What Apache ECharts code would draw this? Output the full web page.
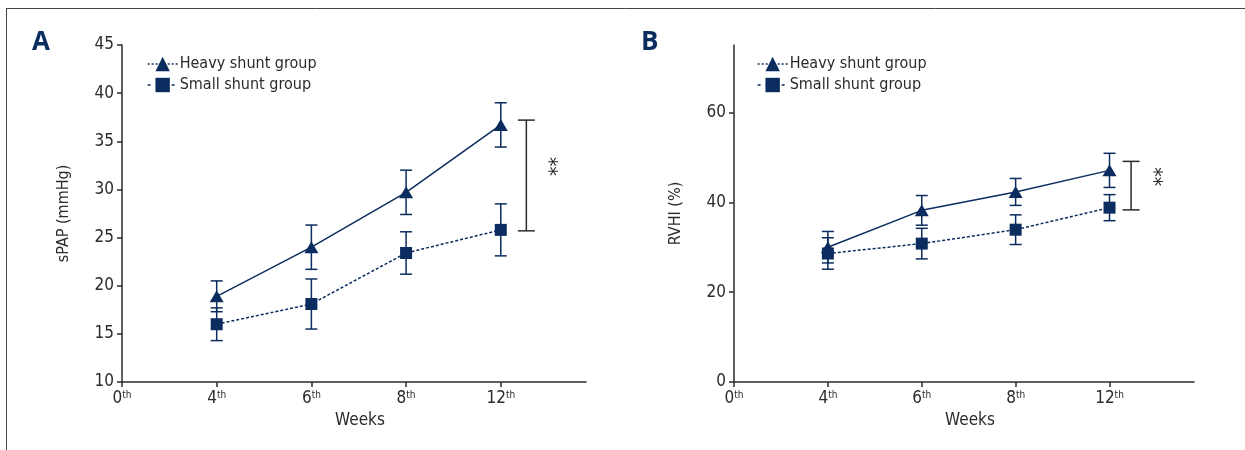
<!DOCTYPE html>
<html>
<head>
<meta charset="utf-8">
<script src="https://cdn.jsdelivr.net/npm/echarts@6/dist/echarts.min.js"></script>
<style>
  html, body { margin: 0; padding: 0; background: #fff; }
  #chart { width: 1245px; height: 450px; }
</style>
</head>
<body>
<div id="chart"></div>
<script>
// x positions 0..4 stand for the weeks below
const weekLabels = ['0', '4', '6', '8', '12']
const weekPos = [1, 2, 3, 4]

// A: sPAP (mmHg)
const sPapHeavy = [18.9, 24.0, 29.7, 36.7]
const sPapHeavySd = [1.6, 2.3, 2.3, 2.3]
const sPapSmall = [16.0, 18.1, 23.4, 25.8]
const sPapSmallSd = [1.7, 2.6, 2.2, 2.7]
const sPapTicks = [10, 15, 20, 25, 30, 35, 40, 45]
const sPapBracket = [25.7, 37.2]

// B: RVHI (%)
const rvhiHeavy = [30.0, 38.2, 42.3, 47.1]
const rvhiHeavySd = [3.5, 3.3, 3.0, 3.8]
const rvhiSmall = [28.6, 30.8, 33.9, 38.8]
const rvhiSmallSd = [3.5, 3.4, 3.3, 2.9]
const rvhiTicks = [0, 20, 40, 60]
const rvhiBracket = [38.3, 49.1]

const NAVY = '#0b2c5e'
const INK = '#2b2b2b'
const FONT = '"DejaVu Sans Condensed", "Liberation Sans Narrow", sans-serif'

const chart = echarts.init(document.getElementById('chart'))

function pairs (ys) {
  return ys.map((y, i) => [weekPos[i], y])
}

function errData (ys, sds) {
  return ys.map((y, i) => [weekPos[i], y - sds[i], y + sds[i]])
}

// vertical bar with caps, in data units
function errSeries (idx, ys, sds) {
  return {
    type: 'custom',
    xAxisIndex: idx,
    yAxisIndex: idx,
    silent: true,
    z: 1,
    data: errData(ys, sds),
    renderItem (params, api) {
      const lo = api.coord([api.value(0), api.value(1)])
      const hi = api.coord([api.value(0), api.value(2)])
      const w = 6
      const style = { stroke: NAVY, lineWidth: 1.5 }
      return {
        type: 'group',
        children: [
          { type: 'line', shape: { x1: lo[0], y1: lo[1], x2: hi[0], y2: hi[1] }, style },
          { type: 'line', shape: { x1: lo[0] - w, y1: lo[1], x2: lo[0] + w, y2: lo[1] }, style },
          { type: 'line', shape: { x1: hi[0] - w, y1: hi[1], x2: hi[0] + w, y2: hi[1] }, style }
        ]
      }
    }
  }
}

function bracketSeries (idx, xPos, range) {
  return {
    type: 'custom',
    xAxisIndex: idx,
    yAxisIndex: idx,
    silent: true,
    data: [[xPos, range[0], range[1]]],
    renderItem (params, api) {
      const lo = api.coord([api.value(0), api.value(1)])
      const hi = api.coord([api.value(0), api.value(2)])
      const w = 8.5
      const style = { stroke: INK, lineWidth: 1.5 }
      return {
        type: 'group',
        children: [
          { type: 'line', shape: { x1: lo[0], y1: lo[1], x2: hi[0], y2: hi[1] }, style },
          { type: 'line', shape: { x1: lo[0] - w, y1: lo[1], x2: lo[0] + w, y2: lo[1] }, style },
          { type: 'line', shape: { x1: hi[0] - w, y1: hi[1], x2: hi[0] + w, y2: hi[1] }, style },
          {
            type: 'text',
            x: lo[0] + 21,
            y: (lo[1] + hi[1]) / 2 - 9,
            rotation: -Math.PI / 2,
            style: {
              text: '**', fill: INK, font: '21px ' + FONT,
              align: 'center', verticalAlign: 'middle'
            }
          }
        ]
      }
    }
  }
}

function xAxis (idx) {
  return {
    type: 'value',
    gridIndex: idx,
    min: 0,
    max: 4.9,
    name: 'Weeks',
    nameLocation: 'middle',
    nameGap: 22,
    nameTextStyle: { color: INK, fontSize: 17, fontFamily: FONT, padding: [0, 0, 0, 12] },
    axisLine: { lineStyle: { color: INK, width: 1.5 } },
    axisTick: { length: 5, lineStyle: { color: INK, width: 1.5 }, customValues: [0, 1, 2, 3, 4] },
    splitLine: { show: false },
    axisLabel: {
      customValues: [0, 1, 2, 3, 4],
      margin: 8,
      formatter: v => '{n|' + weekLabels[Math.round(v)] + '}{s|th}',
      rich: {
        n: { fontSize: 17, fontFamily: FONT, color: INK, lineHeight: 18 },
        s: { fontSize: 10, fontFamily: FONT, color: INK, verticalAlign: 'top', lineHeight: 18, padding: [0, 0, 7, 0] }
      }
    }
  }
}

function yAxis (idx, name, min, max, ticks) {
  return {
    type: 'value',
    gridIndex: idx,
    min,
    max,
    name,
    nameLocation: 'middle',
    nameGap: 50,
    nameTextStyle: { color: INK, fontSize: 16, fontFamily: FONT },
    axisLine: { show: true, lineStyle: { color: INK, width: 1.5 } },
    axisTick: { show: true, length: 5, lineStyle: { color: INK, width: 1.5 }, customValues: ticks },
    splitLine: { show: false },
    axisLabel: { customValues: ticks, margin: 8, color: INK, fontSize: 17, fontFamily: FONT }
  }
}

function legend (left) {
  return {
    left,
    top: 51,
    orient: 'vertical',
    itemWidth: 30,
    itemHeight: 18,
    itemGap: 5,
    selectedMode: false,
    textStyle: { color: INK, fontSize: 16, fontFamily: FONT, padding: [0, 0, 0, -3] },
    data: [
      { name: 'Heavy shunt group', lineStyle: { color: NAVY, type: [2, 2], width: 1.3 } },
      { name: 'Small shunt group', lineStyle: { color: NAVY, type: [3, 5], width: 1.3 } }
    ]
  }
}

function lineSeries (idx, name, ys, symbol, dashed) {
  return {
    type: 'line',
    name,
    xAxisIndex: idx,
    yAxisIndex: idx,
    data: pairs(ys),
    symbol,
    symbolSize: symbol === 'triangle' ? [14, 12] : 12,
    z: 3,
    itemStyle: { color: NAVY },
    lineStyle: { color: NAVY, width: 1.5, type: dashed ? [3, 2] : 'solid' }
  }
}

chart.setOption({
  animation: false,
  textStyle: { fontFamily: FONT },
  grid: [
    { left: 122, top: 45, width: 464, height: 337 },
    { left: 734, top: 45, width: 460, height: 337 }
  ],
  legend: [legend(142), legend(752)],
  xAxis: [xAxis(0), xAxis(1)],
  yAxis: [
    yAxis(0, 'sPAP (mmHg)', 10, 45, sPapTicks),
    yAxis(1, 'RVHI (%)', 0, 75, rvhiTicks)
  ],
  graphic: [
    { type: 'line', shape: { x1: 6, y1: 8.5, x2: 1245, y2: 8.5 }, style: { stroke: '#444', lineWidth: 1 } },
    { type: 'line', shape: { x1: 6.5, y1: 8.5, x2: 6.5, y2: 450 }, style: { stroke: '#444', lineWidth: 1 } },
    { type: 'text', left: 32, top: 30, style: { text: 'A', fill: NAVY, font: 'bold 26px "Open Sans", sans-serif' } },
    { type: 'text', left: 641, top: 30, style: { text: 'B', fill: NAVY, font: 'bold 26px "Open Sans", sans-serif' } }
  ],
  series: [
    errSeries(0, sPapHeavy, sPapHeavySd),
    errSeries(0, sPapSmall, sPapSmallSd),
    lineSeries(0, 'Heavy shunt group', sPapHeavy, 'triangle', false),
    lineSeries(0, 'Small shunt group', sPapSmall, 'rect', true),
    bracketSeries(0, 4.27, sPapBracket),
    errSeries(1, rvhiHeavy, rvhiHeavySd),
    errSeries(1, rvhiSmall, rvhiSmallSd),
    lineSeries(1, 'Heavy shunt group', rvhiHeavy, 'triangle', false),
    lineSeries(1, 'Small shunt group', rvhiSmall, 'rect', true),
    bracketSeries(1, 4.23, rvhiBracket)
  ]
})

window.addEventListener('resize', () => chart.resize())
</script>
</body>
</html>
